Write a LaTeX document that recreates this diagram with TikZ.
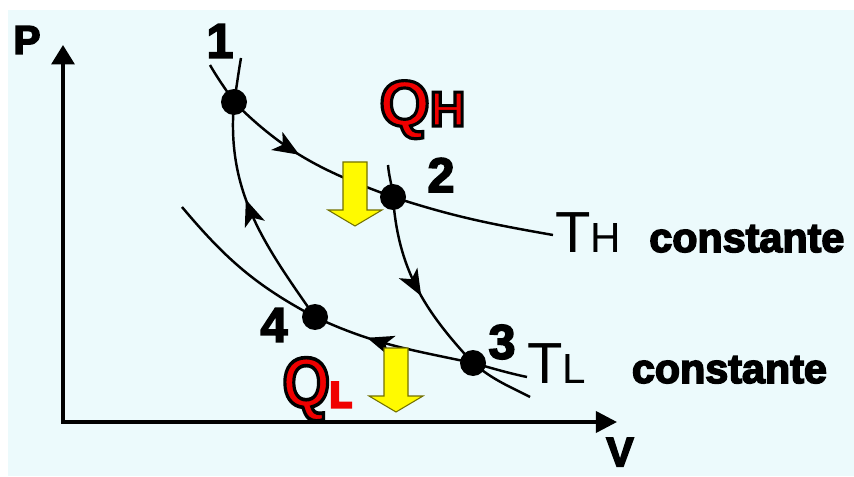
\documentclass[tikz,border=0pt]{standalone}
\usepackage{fontspec}
\setmainfont{Liberation Sans}
\usetikzlibrary{arrows.meta,decorations.markings}
\definecolor{paper}{RGB}{236,250,252}
\definecolor{heatred}{RGB}{240,0,0}
\definecolor{heatyellow}{RGB}{255,250,0}
\newcommand\outlined[1]{\special{pdf:literal direct 0 0 0 RG 2 Tr 1.8 w}#1\special{pdf:literal direct 0 Tr}}
\newcommand\heavy[1]{\special{pdf:literal direct 2 Tr 0.9 w}#1\special{pdf:literal direct 0 Tr}}
\begin{document}
\begin{tikzpicture}[
    x=0.02cm, y=-0.02cm,
    axis/.style={line width=2pt, {Triangle[length=11pt,width=13pt]}-{Triangle[length=12pt,width=12pt]}},
    curve/.style={line width=1.4pt},
    dot/.style={circle, fill=black, minimum size=0.52cm, inner sep=0pt},
    num/.style={inner sep=0pt, font=\bfseries\fontsize{27.7}{28}\selectfont},
    label/.style={inner sep=0pt, anchor=base west},
    heat/.style={inner sep=0pt, anchor=base west, text=heatred, font=\bfseries},
    flow/.style={postaction={decorate}, decoration={markings, mark=at position #1 with {\arrow{Stealth[length=15pt,width=12pt,inset=4pt]}}}},
    heatarrow/.pic={\draw[fill=heatyellow, draw=black!55!heatyellow, line width=0.6pt]
        (-12,0) -- (12,0) -- (12,48) -- (27,48) -- (0,64) -- (-27,48) -- (-12,48) -- cycle;}
]
\useasboundingbox[fill=white] (0,0) rectangle (854,476);
\fill[paper] (8,10) rectangle (854,476);

\coordinate (origin) at (63,422);
\coordinate (ptop) at (63,45);
\coordinate (vend) at (617,422);
\draw[axis] (ptop) -- (origin) -- (vend);
\node[inner sep=0pt, font=\bfseries\fontsize{23}{23}\selectfont] (plabel) at (27,40) {\heavy{P}};
\node[inner sep=0pt, font=\bfseries\fontsize{23.5}{24}\selectfont] (vlabel) at (620,452) {\heavy{V}};

\node[dot] (p1) at (234,102) {};
\node[dot] (p2) at (393,197) {};
\node[dot] (p3) at (473,363) {};
\node[dot] (p4) at (315,317) {};

\coordinate (th0) at (210,65);
\coordinate (th1) at (553,235);
\coordinate (tl0) at (182,207);
\coordinate (tl1) at (527,377);
\coordinate (a0) at (241,58);
\coordinate (b0) at (388,165);
\coordinate (b1) at (530,397);

\draw[curve] (th0) to[out=-60,in=123] (p1.center);
\draw[curve, flow=0.45] (p1.center) to[out=-45,in=160] (p2.center);
\draw[curve] (p2.center) to[out=-18,in=170] (th1);

\draw[curve] (a0) to[out=-100,in=80] (p1.center);
\draw[curve, flow=0.58] (p4.center) to[out=125,in=-95] (p1.center);
\draw[curve] (b0) to[out=-85,in=95] (p2.center);
\draw[curve, flow=0.55] (p2.center) to[out=-86,in=133] (p3.center);
\draw[curve] (p3.center) to[out=-40,in=153] (b1);

\draw[curve] (tl0) to[out=-50,in=152] (p4.center);
\draw[curve, flow=0.66] (p3.center) to[out=168,in=-25] (p4.center);
\draw[curve] (p3.center) to[out=-15,in=168] (tl1);

\node[num] (n1) at (220,41) {\heavy{1}};
\node[num] (n2) at (441,175) {\heavy{2}};
\node[num] (n3) at (502,342) {\heavy{3}};
\node[num] (n4) at (274,325) {\heavy{4}};

\pic at (355,162) {heatarrow};
\pic at (396,348) {heatarrow};

\node[heat] (qh) at (379,126) {\outlined{{\fontsize{37}{37}\selectfont Q}{\fontsize{28}{28}\selectfont H}}};
\node[heat] (ql) at (282,407) {\outlined{\scalebox{1}[1.15]{\fontsize{35}{35}\selectfont Q}{\fontsize{20}{20}\selectfont L}}};

\node[label] (thlabel) at (555,252) {{\fontsize{33}{33}\selectfont T}{\fontsize{24}{24}\selectfont H}\hspace{16pt}{\bfseries\fontsize{23.5}{24}\selectfont\heavy{constante}}};
\node[label] (tllabel) at (527,383) {{\fontsize{33}{33}\selectfont T}{\fontsize{24}{24}\selectfont L}\hspace{26pt}{\bfseries\fontsize{23.5}{24}\selectfont\heavy{constante}}};
\end{tikzpicture}
\end{document}
